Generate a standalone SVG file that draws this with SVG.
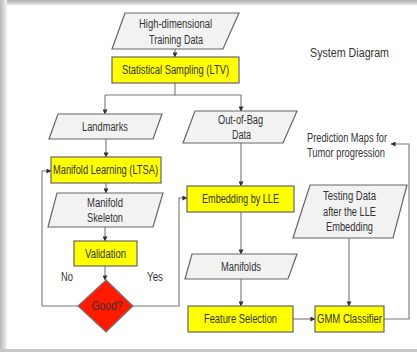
<svg xmlns="http://www.w3.org/2000/svg" width="417" height="352" viewBox="0 0 417 352">
<defs>
<linearGradient id="lg" x1="0" y1="0" x2="1" y2="0">
<stop offset="0" stop-color="#b8b8b8"/><stop offset="1" stop-color="#f2f2f2"/>
</linearGradient>
<linearGradient id="tg" x1="0" y1="0" x2="0" y2="1">
<stop offset="0" stop-color="#b0b0b0"/><stop offset="1" stop-color="#d8d8d8"/>
</linearGradient>
<marker id="ah" viewBox="0 0 6 6" refX="5.5" refY="3" markerWidth="5" markerHeight="5" orient="auto" markerUnits="userSpaceOnUse">
<path d="M0,0 L6,3 L0,6 z" fill="#333"/>
</marker>
<style>
.proc{fill:#ffff00;stroke:#666;stroke-width:1.2}
.data{fill:#f2f2f2;stroke:#666;stroke-width:1.2}
.dec{fill:#ff1a00;stroke:#777;stroke-width:1.2}
text{font-family:"Liberation Sans Narrow","Liberation Sans",Arial,sans-serif;font-size:12px;fill:#333;text-anchor:middle}
.c{fill:none;stroke:#777;stroke-width:1.1}
.ca{fill:none;stroke:#777;stroke-width:1.1;marker-end:url(#ah)}
</style>
</defs>
<rect x="0" y="0" width="417" height="352" fill="#ffffff"/>
<rect x="0" y="0" width="417" height="4" fill="url(#tg)"/>
<rect x="0" y="0" width="7" height="352" fill="url(#lg)"/>
<rect x="7" y="4" width="410" height="1" fill="#e6e6e6"/>
<rect x="0" y="349" width="417" height="3" fill="#c8c8c8"/>

<g id="connectors">
<path class="ca" d="M175,49 V57"/>
<path class="c" d="M175,83 V95 H105"/>
<path class="ca" d="M105,95 V114"/>
<path class="ca" d="M175,95 H241 V111"/>
<path class="ca" d="M106,139 V157"/>
<path class="ca" d="M106,183 V193"/>
<path class="ca" d="M105,227 V241"/>
<path class="ca" d="M105,266 V280"/>
<path class="ca" d="M78,306 H42 V171 H51"/>
<path class="ca" d="M133,306 H179 V198 H187"/>
<path class="ca" d="M241,143 V186"/>
<path class="ca" d="M241,212 V254"/>
<path class="ca" d="M241,279 V306"/>
<path class="ca" d="M293,319 H315"/>
<path class="ca" d="M349,238 V306"/>
<path class="ca" d="M384,319 H409 V144 H391"/>
</g>

<g id="training-data">
<polygon class="data" points="125,13 239,13 223,49 112,49"/>
<text x="175.5" y="28" textLength="73" lengthAdjust="spacingAndGlyphs">High-dimensional</text>
<text x="176" y="44" textLength="54" lengthAdjust="spacingAndGlyphs">Training Data</text>
</g>
<g id="statistical-sampling">
<rect class="proc" x="112" y="57" width="127" height="26"/>
<text x="175.5" y="74" textLength="107" lengthAdjust="spacingAndGlyphs">Statistical Sampling (LTV)</text>
</g>
<g id="landmarks">
<polygon class="data" points="58,114 162,114 153,139 49,139"/>
<text x="105" y="131" textLength="46" lengthAdjust="spacingAndGlyphs">Landmarks</text>
</g>
<g id="out-of-bag">
<polygon class="data" points="195,111 297,111 283,143 183,143"/>
<text x="240.5" y="124" textLength="45" lengthAdjust="spacingAndGlyphs">Out-of-Bag</text>
<text x="241.5" y="139" textLength="19" lengthAdjust="spacingAndGlyphs">Data</text>
</g>
<g id="manifold-learning">
<rect class="proc" x="51" y="157" width="110" height="26"/>
<text x="105.5" y="174" textLength="105" lengthAdjust="spacingAndGlyphs">Manifold Learning (LTSA)</text>
</g>
<g id="manifold-skeleton">
<polygon class="data" points="57,193 163,193 153,227 48,227"/>
<text x="105" y="207" textLength="36" lengthAdjust="spacingAndGlyphs">Manifold</text>
<text x="105" y="222" textLength="36" lengthAdjust="spacingAndGlyphs">Skeleton</text>
</g>
<g id="validation">
<rect class="proc" x="74" y="241" width="63" height="25"/>
<text x="105.5" y="258" textLength="41" lengthAdjust="spacingAndGlyphs">Validation</text>
</g>
<g id="good">
<polygon class="dec" points="106,280 133,306 106,332 78,306"/>
<text x="107" y="310" textLength="31" lengthAdjust="spacingAndGlyphs">Good?</text>
</g>
<text x="67" y="281" textLength="12" lengthAdjust="spacingAndGlyphs">No</text>
<text x="155" y="281" textLength="16" lengthAdjust="spacingAndGlyphs">Yes</text>
<g id="embedding">
<rect class="proc" x="187" y="186" width="107" height="26"/>
<text x="240.5" y="203" textLength="77" lengthAdjust="spacingAndGlyphs">Embedding by LLE</text>
</g>
<g id="manifolds">
<polygon class="data" points="192,254 297,254 288,279 185,279"/>
<text x="241" y="271" textLength="40" lengthAdjust="spacingAndGlyphs">Manifolds</text>
</g>
<g id="feature-selection">
<rect class="proc" x="188" y="306" width="105" height="26"/>
<text x="240.5" y="323" textLength="73" lengthAdjust="spacingAndGlyphs">Feature Selection</text>
</g>
<g id="gmm-classifier">
<rect class="proc" x="315" y="306" width="69" height="26"/>
<text x="349.5" y="323" textLength="65" lengthAdjust="spacingAndGlyphs">GMM Classifier</text>
</g>
<g id="testing-data">
<polygon class="data" points="310,185 407,185 393,238 293,238"/>
<text x="349.5" y="200" textLength="53" lengthAdjust="spacingAndGlyphs">Testing Data</text>
<text x="349.5" y="216" textLength="53" lengthAdjust="spacingAndGlyphs">after the LLE</text>
<text x="349.5" y="231" textLength="47" lengthAdjust="spacingAndGlyphs">Embedding</text>
</g>
<g id="prediction-maps">
<text x="347" y="142" textLength="80" lengthAdjust="spacingAndGlyphs">Prediction Maps for</text>
<text x="346" y="157" textLength="78" lengthAdjust="spacingAndGlyphs">Tumor progression</text>
</g>
<text x="349.5" y="57" textLength="79" lengthAdjust="spacingAndGlyphs">System Diagram</text>
</svg>
